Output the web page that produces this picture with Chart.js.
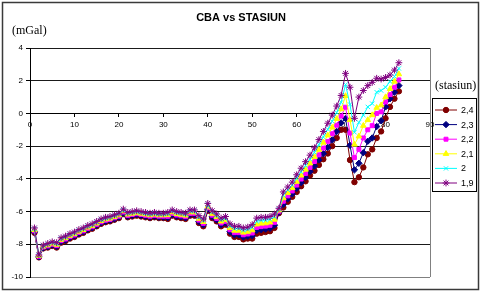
<!DOCTYPE html>
<html lang="id">
<head>
<meta charset="UTF-8">
<title>CBA vs STASIUN</title>
<script src="https://cdn.jsdelivr.net/npm/chart.js"></script>
<style>
  html, body { margin: 0; padding: 0; background: #fff; }
  #wrap { width: 482px; height: 294px; }
</style>
</head>
<body>
<div id="wrap"><canvas id="cba" width="482" height="294"></canvas></div>
<script>
// station number (x)
const stations = [1,2,3,4,5,6,7,8,9,10,11,12,13,14,15,16,17,18,19,20,
  21,22,23,24,25,26,27,28,29,30,31,32,33,34,35,36,37,38,39,40,
  41,42,43,44,45,46,47,48,49,50,51,52,53,54,55,56,57,58,59,60,
  61,62,63,64,65,66,67,68,69,70,71,72,73,74,75,76,77,78,79,80,81,82,83];

// CBA (mGal) per density
const s24 = [-7.3,-8.8,-8.25,-8.2,-8.1,-8.2,-7.9,-7.8,-7.65,-7.55,
  -7.4,-7.3,-7.15,-7.05,-6.9,-6.75,-6.65,-6.6,-6.5,-6.4,
  -6.15,-6.35,-6.3,-6.25,-6.3,-6.35,-6.4,-6.35,-6.4,-6.4,
  -6.45,-6.25,-6.35,-6.4,-6.45,-6.25,-6.25,-6.7,-6.9,-5.95,
  -6.4,-6.6,-6.9,-6.8,-7.35,-7.55,-7.55,-7.7,-7.65,-7.65,
  -7.35,-7.3,-7.25,-7.2,-7.0,-6.1,-5.75,-5.4,-5.1,-4.8,
  -4.45,-4.15,-3.8,-3.5,-3.15,-2.8,-2.45,-2.0,-1.5,-1.0,
  -1.0,-2.85,-4.2,-3.9,-3.3,-2.5,-2.2,-1.5,-1.1,-0.3,
  0.4,0.9,1.35];
const s23 = [-7.24,-8.77,-8.21,-8.15,-8.05,-8.14,-7.84,-7.74,-7.59,-7.49,
  -7.34,-7.24,-7.09,-6.99,-6.84,-6.69,-6.59,-6.54,-6.44,-6.34,
  -6.09,-6.29,-6.24,-6.19,-6.24,-6.29,-6.34,-6.29,-6.34,-6.34,
  -6.37,-6.18,-6.28,-6.33,-6.38,-6.18,-6.18,-6.61,-6.81,-5.86,
  -6.31,-6.51,-6.8,-6.7,-7.23,-7.42,-7.42,-7.56,-7.51,-7.48,
  -7.16,-7.11,-7.07,-7.02,-6.83,-6.04,-5.56,-5.22,-4.92,-4.59,
  -4.23,-3.91,-3.55,-3.22,-2.84,-2.46,-2.08,-1.62,-1.11,-0.58,
  -0.31,-1.95,-3.45,-3.05,-2.4,-1.7,-1.5,-0.8,-0.45,0.4,
  0.9,1.3,1.7];
const s22 = [-7.18,-8.74,-8.17,-8.1,-8.0,-8.08,-7.78,-7.68,-7.53,-7.43,
  -7.28,-7.18,-7.03,-6.93,-6.78,-6.63,-6.53,-6.48,-6.38,-6.28,
  -6.03,-6.23,-6.18,-6.13,-6.18,-6.23,-6.28,-6.23,-6.28,-6.28,
  -6.29,-6.11,-6.21,-6.26,-6.31,-6.11,-6.11,-6.52,-6.72,-5.77,
  -6.22,-6.42,-6.7,-6.6,-7.11,-7.29,-7.29,-7.42,-7.37,-7.31,
  -6.97,-6.92,-6.89,-6.84,-6.66,-5.98,-5.37,-5.04,-4.74,-4.38,
  -4.01,-3.67,-3.3,-2.94,-2.53,-2.12,-1.71,-1.24,-0.72,-0.16,
  0.38,-1.2,-2.7,-2.2,-1.5,-1.0,-0.75,0.0,0.1,0.7,
  1.15,1.6,2.05];
const s21 = [-7.12,-8.71,-8.13,-8.05,-7.95,-8.02,-7.72,-7.62,-7.47,-7.37,
  -7.22,-7.12,-6.97,-6.87,-6.72,-6.57,-6.47,-6.42,-6.32,-6.22,
  -5.97,-6.17,-6.12,-6.07,-6.12,-6.17,-6.22,-6.17,-6.22,-6.22,
  -6.21,-6.04,-6.14,-6.19,-6.24,-6.04,-6.04,-6.43,-6.63,-5.68,
  -6.13,-6.33,-6.6,-6.5,-6.99,-7.16,-7.16,-7.28,-7.23,-7.14,
  -6.78,-6.73,-6.71,-6.66,-6.49,-5.92,-5.18,-4.86,-4.56,-4.17,
  -3.79,-3.43,-3.05,-2.66,-2.22,-1.78,-1.34,-0.86,-0.33,0.26,
  1.07,-0.4,-1.9,-1.4,-0.75,-0.4,-0.1,0.35,0.5,1.0,
  1.5,1.95,2.4];
const s20 = [-7.06,-8.68,-8.09,-8.0,-7.9,-7.96,-7.66,-7.56,-7.41,-7.31,
  -7.16,-7.06,-6.91,-6.81,-6.66,-6.51,-6.41,-6.36,-6.26,-6.16,
  -5.91,-6.11,-6.06,-6.01,-6.06,-6.11,-6.16,-6.11,-6.16,-6.16,
  -6.13,-5.97,-6.07,-6.12,-6.17,-5.97,-5.97,-6.34,-6.54,-5.59,
  -6.04,-6.24,-6.5,-6.4,-6.87,-7.03,-7.03,-7.14,-7.09,-6.97,
  -6.59,-6.54,-6.53,-6.48,-6.32,-5.86,-4.99,-4.68,-4.38,-3.96,
  -3.57,-3.19,-2.8,-2.38,-1.91,-1.44,-0.97,-0.48,0.06,0.68,
  1.76,0.55,-1.15,-0.55,-0.1,0.4,0.6,1.3,1.4,1.6,
  1.95,2.25,2.75];
const s19 = [-7.0,-8.65,-8.05,-7.95,-7.85,-7.9,-7.6,-7.5,-7.35,-7.25,
  -7.1,-7.0,-6.85,-6.75,-6.6,-6.45,-6.35,-6.3,-6.2,-6.1,
  -5.85,-6.05,-6.0,-5.95,-6.0,-6.05,-6.1,-6.05,-6.1,-6.1,
  -6.05,-5.9,-6.0,-6.05,-6.1,-5.9,-5.9,-6.25,-6.45,-5.5,
  -5.95,-6.15,-6.4,-6.3,-6.75,-6.9,-6.9,-7.0,-6.95,-6.8,
  -6.4,-6.35,-6.35,-6.3,-6.15,-5.8,-4.8,-4.5,-4.2,-3.75,
  -3.35,-2.95,-2.55,-2.1,-1.6,-1.1,-0.6,-0.1,0.45,1.1,
  2.45,1.6,-0.3,1.0,1.4,1.7,1.9,2.15,2.1,2.2,
  2.35,2.65,3.1];

const seriesNames = ['2,4', '2,3', '2,2', '2,1', '2', '1,9'];
const seriesData = [s24, s23, s22, s21, s20, s19];
const yTicks = [4, 2, 0, -2, -4, -6, -8, -10];
const xTicks = [0, 10, 20, 30, 40, 50, 60, 70, 80, 90];

const colors = ['#800000', '#000080', '#ff00ff', '#ffff00', '#00ffff', '#800080'];
const markers = ['circle', 'rectRot', 'rect', 'triangle', 'crossRot', 'star'];
const radii = [2.7, 3.2, 2.8, 3.2, 3, 3.4];

const datasets = seriesNames.map((name, i) => ({
  label: name,
  data: seriesData[i],
  borderColor: colors[i],
  backgroundColor: colors[i],
  pointBackgroundColor: colors[i],
  pointBorderColor: colors[i],
  pointStyle: markers[i],
  pointRadius: radii[i],
  pointBorderWidth: 1,
  borderWidth: 1,
  tension: 0,
  order: seriesNames.length - 1 - i
}));

// frame, titles, legend
const decor = {
  id: 'decor',
  beforeDraw(chart) {
    const c = chart.ctx;
    c.save();
    c.fillStyle = '#fff';
    c.fillRect(0, 0, chart.width, chart.height);
    c.restore();
  },
  beforeDatasetsDraw(chart) {
    const c = chart.ctx, a = chart.chartArea;
    c.save();
    c.strokeStyle = '#808080';
    c.lineWidth = 1;
    c.beginPath();
    c.moveTo(Math.round(a.right) + 0.5, a.top);
    c.lineTo(Math.round(a.right) + 0.5, a.bottom);
    c.stroke();
    c.restore();
  },
  afterDraw(chart) {
    const c = chart.ctx;
    c.save();
    // outer border
    c.strokeStyle = '#3a3a3a';
    c.lineWidth = 1.5;
    c.strokeRect(2.5, 2.5, 476, 287);

    c.fillStyle = '#000';
    c.textBaseline = 'middle';
    c.textAlign = 'center';
    c.font = 'bold 11px "Liberation Sans", Arial, sans-serif';
    c.fillText('CBA vs STASIUN', 241, 18);

    c.textAlign = 'left';
    c.font = '12px "Liberation Serif", "Times New Roman", serif';
    c.fillText('(mGal)', 12, 31);
    c.fillText('(stasiun)', 435, 86);

    // legend
    const lx = 432, ly = 98, lw = 44, lh = 93;
    c.strokeStyle = '#000';
    c.lineWidth = 1;
    c.strokeRect(lx + 0.5, ly + 0.5, lw, lh);
    c.font = '9px "Liberation Sans", Arial, sans-serif';
    chart.data.datasets.forEach((ds, i) => {
      const y = ly + 12 + i * 14.6;
      c.strokeStyle = ds.borderColor;
      c.lineWidth = 1;
      c.beginPath();
      c.moveTo(lx + 3, y);
      c.lineTo(lx + 25, y);
      c.stroke();
      c.fillStyle = ds.pointBackgroundColor;
      c.strokeStyle = ds.pointBorderColor;
      Chart.helpers.drawPoint(c, { pointStyle: ds.pointStyle, radius: ds.pointRadius, borderWidth: 1 }, lx + 14, y);
      c.fillStyle = '#000';
      c.fillText(ds.label, lx + 29, y + 0.5);
    });
    c.restore();
  }
};

new Chart(document.getElementById('cba'), {
  type: 'line',
  data: { labels: stations, datasets: datasets },
  options: {
    responsive: false,
    animation: false,
    devicePixelRatio: 1,
    layout: { padding: { top: 48, right: 52, bottom: 17, left: 0 } },
    plugins: {
      legend: { display: false },
      title: { display: false },
      tooltip: { enabled: false }
    },
    scales: {
      x: {
        type: 'linear',
        position: { y: 0 },
        min: 0,
        max: 90,
        afterBuildTicks: s => { s.ticks = xTicks.map(v => ({ value: v })); },
        ticks: {
          color: '#000',
          padding: 4,
          maxRotation: 0,
          font: { family: '"Liberation Sans", Arial, sans-serif', size: 8 }
        },
        grid: { drawOnChartArea: false, drawTicks: true, tickLength: 3, tickColor: '#000' },
        border: { color: '#000', width: 1 }
      },
      y: {
        min: -10,
        max: 4,
        afterBuildTicks: s => { s.ticks = yTicks.map(v => ({ value: v })); },
        afterFit: s => { s.width = 30; },
        ticks: {
          color: '#000',
          padding: 3,
          font: { family: '"Liberation Sans", Arial, sans-serif', size: 8 }
        },
        grid: {
          color: ctx => (ctx.tick && ctx.tick.value === -10) ? '#808080' : '#1a1a1a',
          tickColor: '#000',
          tickLength: 4,
          lineWidth: 1
        },
        border: { color: '#000', width: 1 }
      }
    }
  },
  plugins: [decor]
});
</script>
</body>
</html>
